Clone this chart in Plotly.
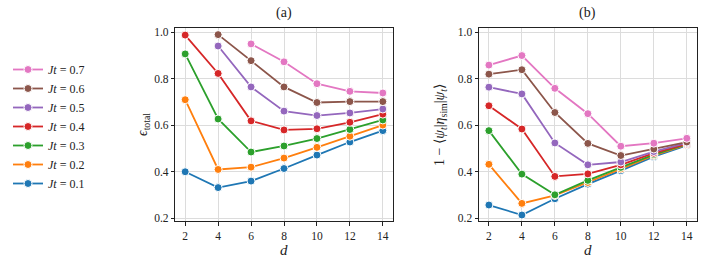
import plotly.graph_objects as go

W, H = 706, 269

d_values = [2, 4, 6, 8, 10, 12, 14]
jt_labels = ["0.1", "0.2", "0.3", "0.4", "0.5", "0.6", "0.7"]
colors = ["#1f77b4", "#ff7f0e", "#2ca02c", "#d62728", "#9467bd", "#8c564b", "#e377c2"]

# Panel (a): epsilon_total  (None = not plotted)
eps_01 = [0.400, 0.332, 0.360, 0.414, 0.472, 0.528, 0.577]
eps_02 = [0.710, 0.410, 0.420, 0.459, 0.505, 0.553, 0.601]
eps_03 = [0.907, 0.627, 0.485, 0.511, 0.543, 0.582, 0.623]
eps_04 = [0.988, 0.823, 0.619, 0.580, 0.585, 0.613, 0.648]
eps_05 = [None, 0.941, 0.765, 0.661, 0.642, 0.653, 0.670]
eps_06 = [None, 0.990, 0.878, 0.765, 0.698, 0.702, 0.702]
eps_07 = [None, None, 0.950, 0.873, 0.779, 0.746, 0.739]

# Panel (b): 1 - <psi_t|eta_sim|psi_t>
inf_01 = [0.257, 0.214, 0.284, 0.347, 0.405, 0.465, 0.514]
inf_02 = [0.432, 0.264, 0.298, 0.354, 0.412, 0.470, 0.517]
inf_03 = [0.577, 0.390, 0.301, 0.363, 0.419, 0.474, 0.519]
inf_04 = [0.684, 0.584, 0.380, 0.391, 0.430, 0.480, 0.520]
inf_05 = [0.764, 0.735, 0.524, 0.430, 0.442, 0.487, 0.524]
inf_06 = [0.820, 0.839, 0.655, 0.522, 0.470, 0.498, 0.528]
inf_07 = [0.859, 0.900, 0.759, 0.650, 0.510, 0.523, 0.544]

eps_series = [eps_01, eps_02, eps_03, eps_04, eps_05, eps_06, eps_07]
inf_series = [inf_01, inf_02, inf_03, inf_04, inf_05, inf_06, inf_07]

x_ticks = [2, 4, 6, 8, 10, 12, 14]
y_ticks = [0.2, 0.4, 0.6, 0.8, 1.0]

FONT = "'Liberation Serif', 'DejaVu Serif', serif"

fig = go.Figure()

for i, lab in enumerate(jt_labels):
    common = dict(
        mode="lines+markers",
        line=dict(color=colors[i], width=1.8),
        marker=dict(symbol="circle", size=8, color=colors[i],
                    line=dict(color="white", width=1)),
        legendgroup=lab,
    )
    fig.add_trace(go.Scatter(x=d_values, y=eps_series[i], xaxis="x", yaxis="y",
                             name=f"<i>Jt</i> = {lab}", showlegend=True, **common))
    fig.add_trace(go.Scatter(x=d_values, y=inf_series[i], xaxis="x2", yaxis="y2",
                             name=f"<i>Jt</i> = {lab}", showlegend=False, **common))

xa = [175.3 / W, 392.7 / W]
xb = [479.0 / W, 696.7 / W]
yd = [1 - 221.3 / H, 1 - 28.0 / H]

axis_common = dict(
    showgrid=True, gridcolor="#dcdcdc", gridwidth=1,
    showline=True, linecolor="#222222", linewidth=1, mirror=True,
    ticks="outside", ticklen=3.5, tickwidth=1, tickcolor="#222222",
    tickfont=dict(family=FONT, size=11.5, color="#222222"),
    zeroline=False, automargin=False,
)

fig.update_layout(
    width=W, height=H,
    margin=dict(l=0, r=0, t=0, b=0),
    paper_bgcolor="white", plot_bgcolor="white",
    font=dict(family=FONT, color="#222222"),
    xaxis=dict(domain=xa, range=[1.4, 14.6], tickvals=x_ticks, anchor="y", **axis_common),
    yaxis=dict(domain=yd, range=[0.187, 1.0185], tickvals=y_ticks, tickformat=".1f",
               anchor="x", **axis_common),
    xaxis2=dict(domain=xb, range=[1.4, 14.6], tickvals=x_ticks, anchor="y2", **axis_common),
    yaxis2=dict(domain=yd, range=[0.187, 1.0185], tickvals=y_ticks, tickformat=".1f",
                anchor="x2", **axis_common),
    legend=dict(
        x=8 / W, y=1 - 55 / H, xanchor="left", yanchor="top",
        traceorder="reversed", font=dict(family=FONT, size=12, color="#222222"),
        bgcolor="rgba(0,0,0,0)", itemwidth=30, tracegroupgap=0,
    ),
    showlegend=True,
)

anns = [
    dict(text="(a)", x=(xa[0] + xa[1]) / 2, y=1 - 13 / H, font=dict(size=14)),
    dict(text="(b)", x=(xb[0] + xb[1]) / 2, y=1 - 13 / H, font=dict(size=14)),
    dict(text="<i>d</i>", x=(xa[0] + xa[1]) / 2, y=1 - 250 / H, font=dict(size=15)),
    dict(text="<i>d</i>", x=(xb[0] + xb[1]) / 2, y=1 - 250 / H, font=dict(size=15)),
    dict(text="<i>ϵ</i><sub>total</sub>", x=143 / W, y=1 - 125 / H, textangle=-90,
         font=dict(size=14)),
    dict(text="1 − ⟨<i>ψ</i><sub><i>t</i></sub>|<i>η</i><sub>sim</sub>|<i>ψ</i><sub><i>t</i></sub>⟩",
         x=440 / W, y=1 - 125 / H, textangle=-90, font=dict(size=14)),
]
for a in anns:
    a.update(xref="paper", yref="paper", showarrow=False, xanchor="center", yanchor="middle")
    a["font"].update(family=FONT, color="#222222")
fig.update_layout(annotations=anns)

fig.write_html("out.html", config={"displayModeBar": False},
               post_script="document.body.style.margin='0';")
